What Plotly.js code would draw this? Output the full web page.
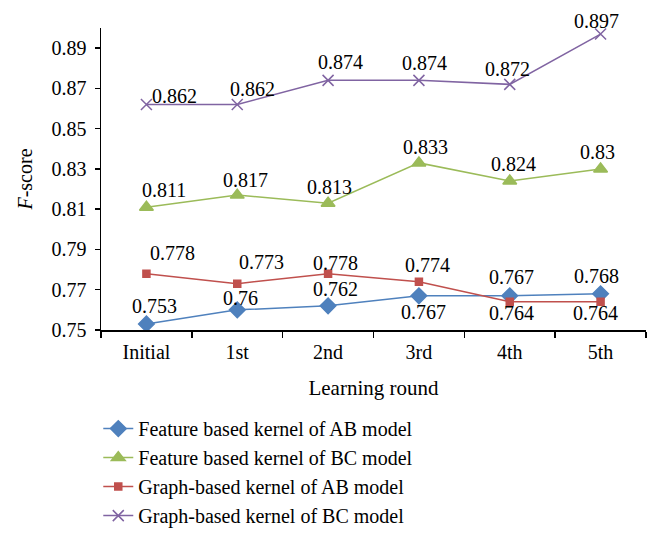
<!DOCTYPE html>
<html>
<head>
<meta charset="utf-8">
<script src="https://cdn.plot.ly/plotly-3.0.1.min.js"></script>
<style>html,body{margin:0;padding:0;background:#fff;}</style>
</head>
<body>
<div id="chart" style="width:661px;height:538px;"></div>
<script>
const rounds = ["Initial", "1st", "2nd", "3rd", "4th", "5th"];
const featureAB = [0.753, 0.760, 0.762, 0.767, 0.767, 0.768];
const featureBC = [0.811, 0.817, 0.813, 0.833, 0.824, 0.830];
const graphAB = [0.778, 0.773, 0.778, 0.774, 0.764, 0.764];
const graphBC = [0.862, 0.862, 0.874, 0.874, 0.872, 0.897];
const yTicks = [0.75, 0.77, 0.79, 0.81, 0.83, 0.85, 0.87, 0.89];
const names = ["Feature based kernel of AB model", "Feature based kernel of BC model",
               "Graph-based kernel of AB model", "Graph-based kernel of BC model"];

// label offsets in pixels (style, not data)
const shifts = {
  fAB: [[8,18],[3,12],[7,17],[5,-16],[2,19],[-4,18]],
  fBC: [[18,17],[8,15],[1,16],[7,16],[4,17],[-3,17]],
  gAB: [[26,21],[24,22],[7,11],[9,17],[2,-11],[-5,-11]],
  gBC: [[28,9],[15,16],[12,18],[6,17],[-2,15],[-4,13]]
};

const font = "Liberation Serif";
const series = [
  {y: featureAB, name: names[0], color: "#4F81BD", symbol: "diamond", size: 12, key: "fAB"},
  {y: featureBC, name: names[1], color: "#9BBB59", symbol: "triangle-up", size: 12, key: "fBC"},
  {y: graphAB, name: names[2], color: "#C0504D", symbol: "square", size: 7, key: "gAB"},
  {y: graphBC, name: names[3], color: "#8064A2", symbol: "x-thin-open", size: 11, key: "gBC"}
];

const traces = series.map(s => ({
  type: "scatter", mode: "lines+markers", x: rounds, y: s.y, name: s.name,
  line: {color: s.color, width: 1.5},
  marker: {color: s.color, symbol: s.symbol, size: s.size, line: {color: s.color, width: 1.5}}
}));

const annotations = [];
series.forEach(s => {
  s.y.forEach((v, i) => {
    annotations.push({
      x: rounds[i], y: v, xref: "x", yref: "y", text: String(+v.toFixed(3)),
      showarrow: false, xshift: shifts[s.key][i][0], yshift: shifts[s.key][i][1],
      font: {family: font, size: 20, color: "#000"}
    });
  });
});

const layout = {
  width: 661, height: 538,
  margin: {l: 101, r: 15, t: 28, b: 208, autoexpand: false},
  paper_bgcolor: "#fff", plot_bgcolor: "#fff",
  font: {family: font, color: "#000"},
  showlegend: true,
  legend: {x: -0.005, xanchor: "left", y: -0.262, yanchor: "top",
           font: {family: font, size: 20, color: "#000"}, bgcolor: "rgba(0,0,0,0)"},
  xaxis: {
    type: "category", range: [-0.5, 5.5], showgrid: false, zeroline: false,
    showline: true, linecolor: "#000", linewidth: 1.5,
    ticks: "outside", tickson: "boundaries", ticklen: 6, tickcolor: "#000", tickwidth: 1.5,
    ticklabelstandoff: 3,
    tickfont: {family: font, size: 20, color: "#000"},
    title: {text: "Learning round", font: {family: font, size: 21, color: "#000"}, standoff: 19}
  },
  yaxis: {
    range: [0.75, 0.90], tickvals: yTicks, ticktext: yTicks.map(v => v.toFixed(2)),
    showgrid: false, zeroline: false,
    showline: true, linecolor: "#000", linewidth: 1.5,
    ticks: "outside", ticklen: 5, tickcolor: "#000", tickwidth: 1.5,
    ticklabelstandoff: 4,
    tickfont: {family: font, size: 20, color: "#000"},
    title: {text: "<i>F</i>-score", font: {family: font, size: 20, color: "#000"}, standoff: 13}
  },
  annotations: annotations
};

Plotly.newPlot("chart", traces, layout, {displayModeBar: false, staticPlot: true});
</script>
</body>
</html>
